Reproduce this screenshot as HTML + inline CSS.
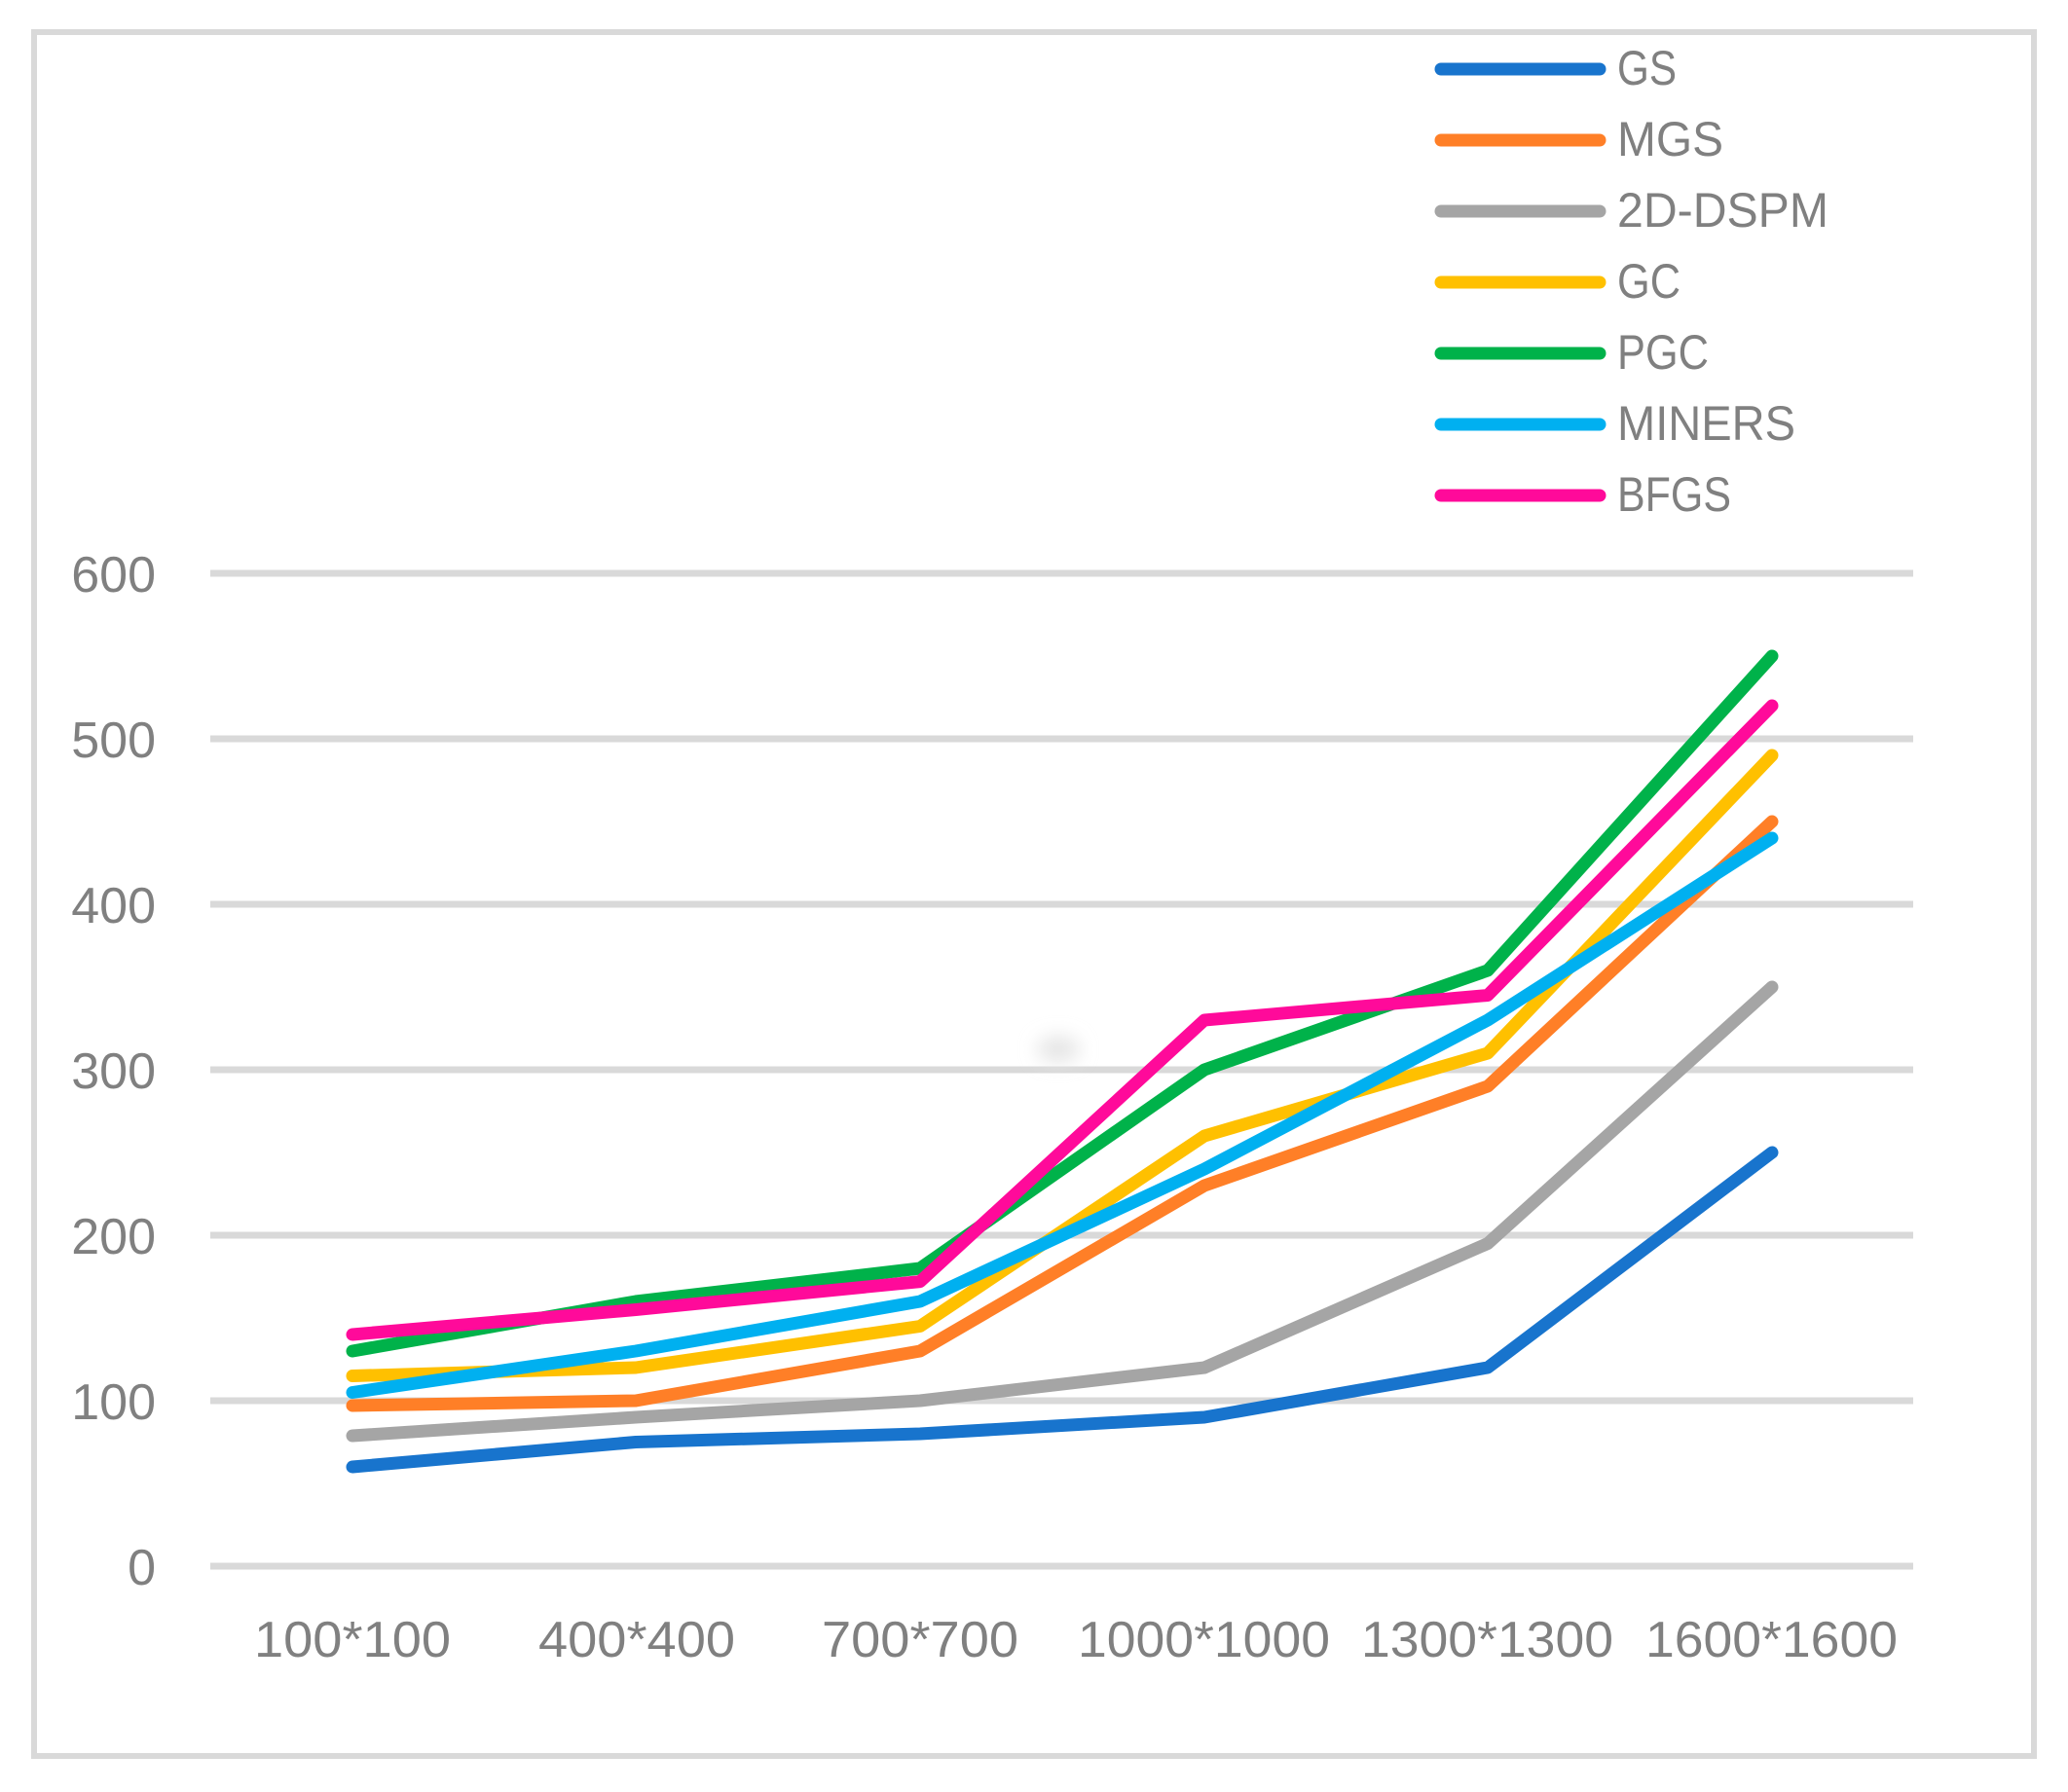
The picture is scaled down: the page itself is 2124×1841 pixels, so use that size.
<!DOCTYPE html>
<html><head><meta charset="utf-8"><style>
html,body{margin:0;padding:0;background:#fff;}
svg{display:block;}
text{font-family:"Liberation Sans",sans-serif;fill:#808080;}
</style></head><body>
<svg width="2124" height="1841" viewBox="0 0 2124 1841" xmlns="http://www.w3.org/2000/svg">
<defs><filter id="b" x="-1" y="-1" width="3" height="3"><feGaussianBlur stdDeviation="9"/></filter></defs>
<rect x="35" y="33" width="2054" height="1771" fill="none" stroke="#d9d9d9" stroke-width="6"/>
<g stroke="#d9d9d9" stroke-width="7">
<line x1="216" y1="589" x2="1965" y2="589"/>
<line x1="216" y1="759" x2="1965" y2="759"/>
<line x1="216" y1="929" x2="1965" y2="929"/>
<line x1="216" y1="1099" x2="1965" y2="1099"/>
<line x1="216" y1="1269" x2="1965" y2="1269"/>
<line x1="216" y1="1439" x2="1965" y2="1439"/>
<line x1="216" y1="1609" x2="1965" y2="1609"/>
</g>
<ellipse cx="1087" cy="1078" rx="22" ry="14" fill="#e6e6e6" filter="url(#b)"/>
<g font-size="52" text-anchor="end">
<text x="160" y="608">600</text>
<text x="160" y="778">500</text>
<text x="160" y="948">400</text>
<text x="160" y="1118">300</text>
<text x="160" y="1288">200</text>
<text x="160" y="1458">100</text>
<text x="160" y="1628">0</text>
</g>
<g font-size="52">
<text x="261" y="1702" textLength="202" lengthAdjust="spacingAndGlyphs">100*100</text>
<text x="553" y="1702" textLength="202" lengthAdjust="spacingAndGlyphs">400*400</text>
<text x="844" y="1702" textLength="202" lengthAdjust="spacingAndGlyphs">700*700</text>
<text x="1107" y="1702" textLength="259" lengthAdjust="spacingAndGlyphs">1000*1000</text>
<text x="1398" y="1702" textLength="259" lengthAdjust="spacingAndGlyphs">1300*1300</text>
<text x="1690" y="1702" textLength="259" lengthAdjust="spacingAndGlyphs">1600*1600</text>
</g>
<g fill="none" stroke-width="13" stroke-linecap="round" stroke-linejoin="round">
<polyline stroke="#1874cd" points="362,1507 653,1481.5 945,1473 1237,1456 1528,1405 1820,1184"/>
<polyline stroke="#ff7f27" points="362,1444 653,1439 945,1388 1237,1218 1528,1116 1820,844"/>
<polyline stroke="#a5a5a5" points="362,1475 653,1456 945,1439 1237,1405 1528,1277.5 1820,1014"/>
<polyline stroke="#ffc000" points="362,1413.5 653,1405 945,1362.5 1237,1167 1528,1082 1820,776"/>
<polyline stroke="#00b24a" points="362,1388 653,1337 945,1303 1237,1099 1528,997 1820,674"/>
<polyline stroke="#00b0f0" points="362,1430.5 653,1388 945,1337 1237,1201 1528,1048 1820,861"/>
<polyline stroke="#ff0a9a" points="362,1371 653,1345.5 945,1316.6 1237,1048 1528,1022.5 1820,725"/>
</g>
<g stroke-width="13" stroke-linecap="round">
<line x1="1480" y1="71" x2="1643" y2="71" stroke="#1874cd"/>
<line x1="1480" y1="144" x2="1643" y2="144" stroke="#ff7f27"/>
<line x1="1480" y1="217" x2="1643" y2="217" stroke="#a5a5a5"/>
<line x1="1480" y1="290" x2="1643" y2="290" stroke="#ffc000"/>
<line x1="1480" y1="363" x2="1643" y2="363" stroke="#00b24a"/>
<line x1="1480" y1="436" x2="1643" y2="436" stroke="#00b0f0"/>
<line x1="1480" y1="509" x2="1643" y2="509" stroke="#ff0a9a"/>
</g>
<g font-size="50">
<text x="1661" y="87" textLength="61" lengthAdjust="spacingAndGlyphs">GS</text>
<text x="1661" y="160" textLength="109" lengthAdjust="spacingAndGlyphs">MGS</text>
<text x="1661" y="233" textLength="217" lengthAdjust="spacingAndGlyphs">2D-DSPM</text>
<text x="1661" y="306" textLength="65" lengthAdjust="spacingAndGlyphs">GC</text>
<text x="1661" y="379" textLength="94" lengthAdjust="spacingAndGlyphs">PGC</text>
<text x="1661" y="452" textLength="183" lengthAdjust="spacingAndGlyphs">MINERS</text>
<text x="1661" y="525" textLength="117" lengthAdjust="spacingAndGlyphs">BFGS</text>
</g>
</svg>
</body></html>
